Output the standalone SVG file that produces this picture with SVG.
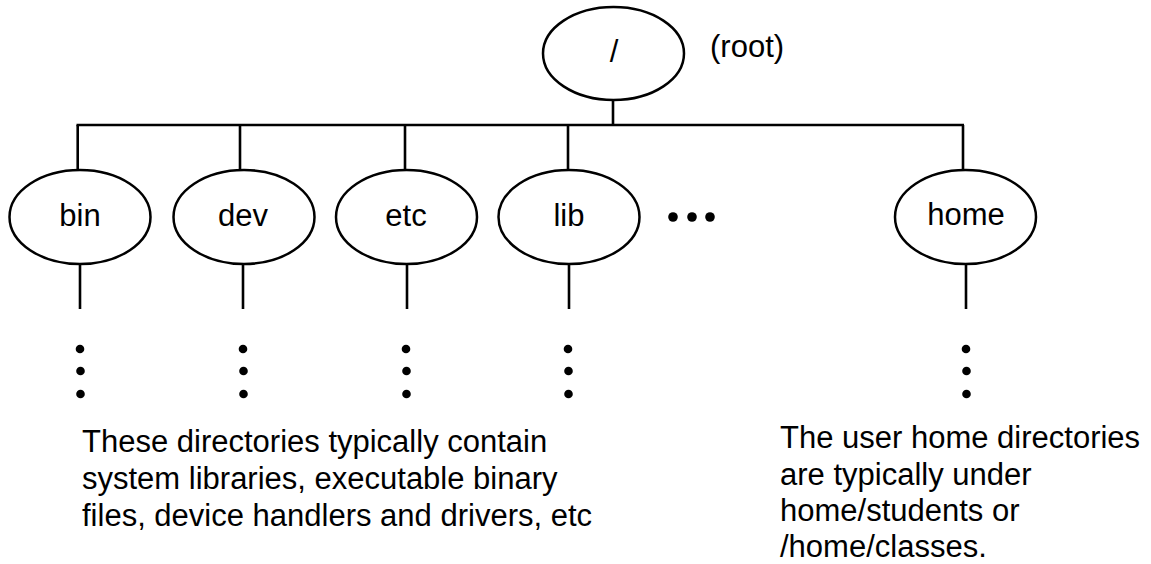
<svg xmlns="http://www.w3.org/2000/svg" width="1151" height="564" viewBox="0 0 1151 564">
<style>
.node ellipse{fill:#fff;stroke:#000;stroke-width:2.5}
.lbl{font-family:"Liberation Sans",Arial,sans-serif;font-size:31px;fill:#000}
.c{text-anchor:middle}
.conn line{stroke:#000;stroke-width:2.6}
.dot{fill:#000}
</style>
<rect width="1151" height="564" fill="#fff"/>
<g id="connectors" class="conn">
<line x1="613" y1="100" x2="613" y2="125"/>
<line x1="76.5" y1="125" x2="964" y2="125"/>
<line x1="77.7" y1="125" x2="77.7" y2="170"/>
<line x1="240" y1="125" x2="240" y2="170"/>
<line x1="405" y1="125" x2="405" y2="170"/>
<line x1="568" y1="125" x2="568" y2="170"/>
<line x1="963" y1="125" x2="963" y2="170"/>
<line x1="80" y1="264" x2="80" y2="309"/>
<line x1="243" y1="264" x2="243" y2="309"/>
<line x1="407" y1="264" x2="407" y2="309"/>
<line x1="569" y1="264" x2="569" y2="309"/>
<line x1="966" y1="264" x2="966" y2="309"/>
</g>
<g id="root" class="node">
<ellipse cx="613.5" cy="53.5" rx="70.5" ry="46.5"/>
<text class="lbl c" x="614" y="62">/</text>
</g>
<text id="root-note" class="lbl" x="710" y="57">(root)</text>
<g id="bin" class="node">
<ellipse cx="80" cy="217" rx="70.5" ry="47"/>
<text class="lbl c" x="80" y="226">bin</text>
</g>
<g id="dev" class="node">
<ellipse cx="244" cy="217" rx="70.5" ry="47"/>
<text class="lbl c" x="243" y="226">dev</text>
</g>
<g id="etc" class="node">
<ellipse cx="406.5" cy="217" rx="70.5" ry="47"/>
<text class="lbl c" x="406" y="226">etc</text>
</g>
<g id="lib" class="node">
<ellipse cx="569" cy="217" rx="70.5" ry="47"/>
<text class="lbl c" x="569" y="226">lib</text>
</g>
<g id="home" class="node">
<ellipse cx="965.5" cy="217" rx="70.5" ry="47"/>
<text class="lbl c" x="966" y="225">home</text>
</g>
<g id="ellipsis-h" class="dot">
<circle cx="673" cy="217" r="4.8"/>
<circle cx="692" cy="217" r="4.8"/>
<circle cx="710" cy="217" r="4.8"/>
</g>
<g id="ellipsis-v" class="dot">
<circle cx="80" cy="349" r="4.3"/><circle cx="80.5" cy="371" r="4.3"/><circle cx="80.5" cy="394" r="4.3"/>
<circle cx="243" cy="349" r="4.3"/><circle cx="243.5" cy="371" r="4.3"/><circle cx="243.5" cy="394" r="4.3"/>
<circle cx="406" cy="349" r="4.3"/><circle cx="406.5" cy="371" r="4.3"/><circle cx="406.5" cy="394" r="4.3"/>
<circle cx="568" cy="349" r="4.3"/><circle cx="568.5" cy="371" r="4.3"/><circle cx="568.5" cy="394" r="4.3"/>
<circle cx="966" cy="349" r="4.3"/><circle cx="966.5" cy="371" r="4.3"/><circle cx="966.5" cy="394" r="4.3"/>
</g>
<g id="note-system" class="lbl">
<text x="82" y="452">These directories typically contain</text>
<text x="82" y="489">system libraries, executable binary</text>
<text x="82" y="526">files, device handlers and drivers, etc</text>
</g>
<g id="note-home" class="lbl">
<text x="780" y="448">The user home directories</text>
<text x="780" y="484.5">are typically under</text>
<text x="780" y="521">home/students or</text>
<text x="780" y="557">/home/classes.</text>
</g>
</svg>
